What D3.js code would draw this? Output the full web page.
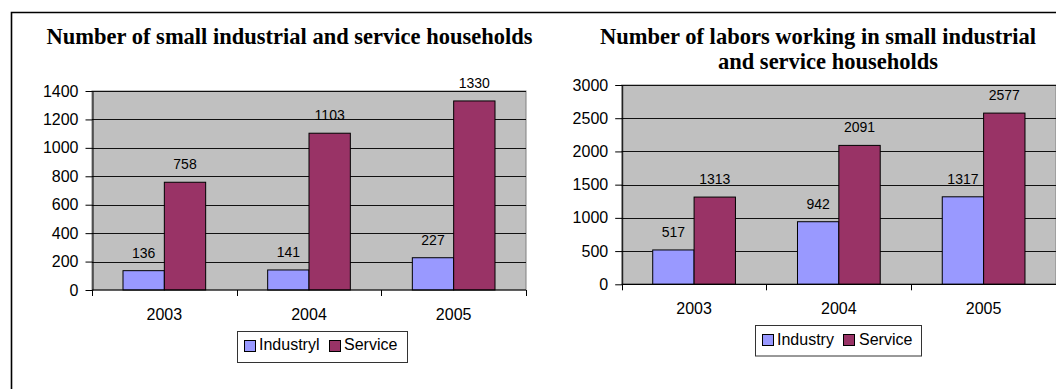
<!DOCTYPE html>
<html><head><meta charset="utf-8">
<script src="https://cdn.jsdelivr.net/npm/d3@7"></script>
<style>
html,body{margin:0;padding:0;background:#fff;overflow:hidden;}
svg{display:block;}
</style></head>
<body>
<svg id="c" width="1056" height="389"></svg>
<script>
// ---- data ----
const years = ["2003", "2004", "2005"];
const householdIndustry = [136, 141, 227];
const householdService = [758, 1103, 1330];
const laborIndustry = [517, 942, 1317];
const laborService = [1313, 2091, 2577];
const householdTicks = [0, 200, 400, 600, 800, 1000, 1200, 1400];
const laborTicks = [0, 500, 1000, 1500, 2000, 2500, 3000];
const leftSeriesNames = ["Industryl", "Service"];
const rightSeriesNames = ["Industry", "Service"];
const leftTitle = ["Number of small industrial and service households"];
const rightTitle = ["Number of labors working in small industrial", "and service households"];
const seriesColors = ["#9999FF", "#993366"];

const svg = d3.select("#c");

// outer frame (only top and left edges visible)
svg.append("path").attr("d", "M11.5,389 L11.5,12.5 L1056,12.5")
  .attr("fill", "none").attr("stroke", "#000").attr("stroke-width", 1.6);

function drawChart(cfg) {
  const g = svg.append("g");
  const y = d3.scaleLinear().domain([0, cfg.ticks[cfg.ticks.length - 1]]).range([cfg.bottom, cfg.top]);
  const x0 = d3.scaleBand().domain(years).range([cfg.left, cfg.right]).padding(0);
  const x1 = d3.scaleBand().domain([0, 1]).range([0, x0.bandwidth()]).paddingInner(0).paddingOuter(0.75);

  // plot background
  g.append("rect").attr("x", cfg.left).attr("y", cfg.top)
    .attr("width", cfg.right - cfg.left).attr("height", cfg.bottom - cfg.top)
    .attr("fill", "#C0C0C0").attr("stroke", "#808080").attr("stroke-width", 1);

  // gridlines
  g.selectAll(".grid").data(cfg.ticks.slice(1)).enter().append("line")
    .attr("x1", cfg.left).attr("x2", cfg.right)
    .attr("y1", d => Math.round(y(d)) + 0.5).attr("y2", d => Math.round(y(d)) + 0.5)
    .attr("stroke", "#111").attr("stroke-width", 1);

  // y axis
  const yAxis = d3.axisLeft(y).tickValues(cfg.ticks).tickFormat(d3.format("d"))
    .tickSize(7).tickPadding(7).tickSizeOuter(0);
  const ya = g.append("g").attr("transform", `translate(${cfg.left + 0.5},0)`).call(yAxis);
  ya.select(".domain").attr("stroke", "#000");
  ya.selectAll(".tick line").attr("stroke", "#000");
  ya.selectAll(".tick text").attr("font-family", "Liberation Sans, Arial, sans-serif")
    .attr("font-size", 16).attr("fill", "#000");

  // bars
  const series = [cfg.a, cfg.b];
  series.forEach((vals, si) => {
    g.selectAll(".bar" + si).data(vals).enter().append("rect")
      .attr("x", (d, i) => x0(years[i]) + x1(si))
      .attr("y", d => y(d))
      .attr("width", x1.bandwidth())
      .attr("height", d => y(0) - y(d))
      .attr("fill", seriesColors[si]).attr("stroke", "#000").attr("stroke-width", 1);
    g.selectAll(".lab" + si).data(vals).enter().append("text")
      .attr("x", (d, i) => x0(years[i]) + x1(si) + x1.bandwidth() / 2)
      .attr("y", d => y(d) - 13)
      .attr("text-anchor", "middle")
      .attr("font-family", "Liberation Sans, Arial, sans-serif").attr("font-size", 14)
      .attr("fill", "#000").text(d => d);
  });

  // x axis line and boundary ticks
  g.append("line").attr("x1", cfg.left).attr("x2", cfg.right)
    .attr("y1", y(0)).attr("y2", y(0)).attr("stroke", "#000").attr("stroke-width", 1.2);
  const bounds = years.map(d => x0(d)).concat([cfg.right]);
  g.selectAll(".xt").data(bounds).enter().append("line")
    .attr("x1", d => Math.round(d) + 0.5).attr("x2", d => Math.round(d) + 0.5)
    .attr("y1", y(0)).attr("y2", y(0) + 6).attr("stroke", "#000");
  g.selectAll(".xl").data(years).enter().append("text")
    .attr("x", d => x0(d) + x0.bandwidth() / 2).attr("y", cfg.xLabelY)
    .attr("text-anchor", "middle")
    .attr("font-family", "Liberation Sans, Arial, sans-serif").attr("font-size", 16)
    .attr("fill", "#000").text(d => d);

  // title
  cfg.title.forEach((t, i) => {
    g.append("text").attr("x", cfg.titleX[i]).attr("y", cfg.titleY[i])
      .attr("text-anchor", "middle")
      .attr("font-family", "Liberation Serif, Times New Roman, serif")
      .attr("font-weight", "bold").attr("font-size", 22.5)
      .attr("fill", "#000").text(t);
  });

  // legend
  const L = cfg.legend;
  g.append("rect").attr("x", L.x + 0.5).attr("y", L.y + 0.5).attr("width", L.w).attr("height", L.h)
    .attr("fill", "#fff").attr("stroke", "#333").attr("stroke-width", 1);
  cfg.names.forEach((n, i) => {
    g.append("rect").attr("x", L.sx[i] + 0.5).attr("y", L.sy + 0.5).attr("width", 11).attr("height", 11)
      .attr("fill", seriesColors[i]).attr("stroke", "#000");
    g.append("text").attr("x", L.tx[i]).attr("y", L.ty)
      .attr("font-family", "Liberation Sans, Arial, sans-serif").attr("font-size", 16)
      .attr("fill", "#000").text(n);
  });
}

drawChart({
  left: 92, right: 526, top: 91, bottom: 290,
  ticks: householdTicks, a: householdIndustry, b: householdService,
  xLabelY: 320, title: leftTitle, titleX: [289.5], titleY: [44],
  names: leftSeriesNames,
  legend: {x: 237, y: 331, w: 170, h: 31, sx: [244, 329], sy: 340, tx: [259, 344], ty: 350}
});

drawChart({
  left: 621.7, right: 1056, top: 85, bottom: 284.3,
  ticks: laborTicks, a: laborIndustry, b: laborService,
  xLabelY: 314, title: rightTitle, titleX: [818, 828], titleY: [44, 68.5],
  names: rightSeriesNames,
  legend: {x: 755, y: 325, w: 166, h: 30.5, sx: [762, 843], sy: 334, tx: [777, 859], ty: 345}
});
</script>
</body></html>
